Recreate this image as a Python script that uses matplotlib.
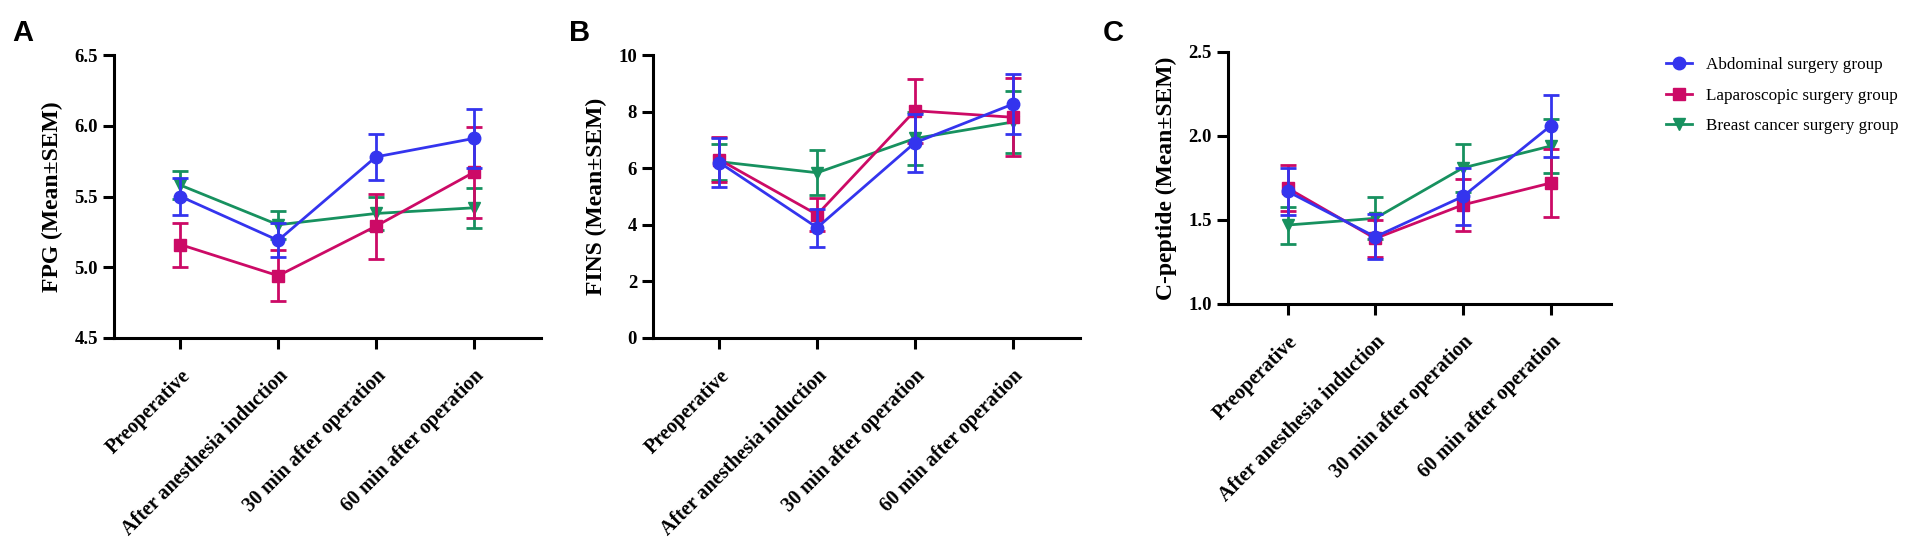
import numpy as np
import matplotlib
matplotlib.use("Agg")
import matplotlib.pyplot as plt
from matplotlib.lines import Line2D

plt.rcParams.update({"font.family": "serif", "font.serif": ["Liberation Serif", "DejaVu Serif"]})

timepoints = ["Preoperative", "After anesthesia induction",
              "30 min after operation", "60 min after operation"]
groups = ["Abdominal surgery group", "Laparoscopic surgery group", "Breast cancer surgery group"]

# FPG, mean and SEM per group
fpg_abd = [5.50, 5.19, 5.78, 5.91]
fpg_abd_sem = [0.13, 0.12, 0.16, 0.21]
fpg_lap = [5.16, 4.94, 5.29, 5.67]
fpg_lap_sem = [0.155, 0.18, 0.23, 0.32]
fpg_bre = [5.58, 5.30, 5.38, 5.42]
fpg_bre_sem = [0.10, 0.10, 0.12, 0.14]

# FINS
fins_abd = [6.20, 3.90, 6.90, 8.26]
fins_abd_sem = [0.85, 0.67, 1.02, 1.06]
fins_lap = [6.30, 4.36, 8.03, 7.80]
fins_lap_sem = [0.79, 0.57, 1.13, 1.38]
fins_bre = [6.23, 5.84, 7.05, 7.63]
fins_bre_sem = [0.63, 0.80, 0.92, 1.10]

# C-peptide
cp_abd = [1.67, 1.40, 1.64, 2.06]
cp_abd_sem = [0.14, 0.135, 0.17, 0.185]
cp_lap = [1.69, 1.39, 1.59, 1.72]
cp_lap_sem = [0.135, 0.11, 0.155, 0.20]
cp_bre = [1.47, 1.51, 1.81, 1.94]
cp_bre_sem = [0.11, 0.125, 0.145, 0.16]

colors = ["#3434EE", "#CC0A66", "#17915F"]
markers = ["o", "s", "v"]

W, H = 1910, 540
fig = plt.figure(figsize=(W / 100, H / 100), dpi=100)

def px_axes(x0, y_top, x1, y_bot):
    return fig.add_axes([x0 / W, 1 - y_bot / H, (x1 - x0) / W, (y_bot - y_top) / H])

axA = px_axes(114, 55, 541, 338)
axB = px_axes(653, 55, 1080, 338)
axC = px_axes(1228, 52, 1611, 304)

panels = [
    (axA, [fpg_abd, fpg_lap, fpg_bre], [fpg_abd_sem, fpg_lap_sem, fpg_bre_sem],
     "FPG (Mean±SEM)", (4.5, 6.5), np.arange(4.5, 6.51, 0.5), "{:.1f}"),
    (axB, [fins_abd, fins_lap, fins_bre], [fins_abd_sem, fins_lap_sem, fins_bre_sem],
     "FINS (Mean±SEM)", (0, 10), np.arange(0, 11, 2), "{:.0f}"),
    (axC, [cp_abd, cp_lap, cp_bre], [cp_abd_sem, cp_lap_sem, cp_bre_sem],
     "C-peptide (Mean±SEM)", (1.0, 2.5), np.arange(1.0, 2.51, 0.5), "{:.1f}"),
]

x = np.arange(len(timepoints))
for ax, means, sems, ylab, ylim, yticks, fmt in panels:
    # blue on top, like the original
    for i in [2, 1, 0]:
        ax.errorbar(x, means[i], yerr=sems[i], color=colors[i], marker=markers[i],
                    markersize=9, lw=2.0, elinewidth=2.0, capsize=6, capthick=2.0,
                    zorder=3 + (2 - i), clip_on=False)
    ax.set_xlim(-0.68, 3.69)
    ax.set_ylim(*ylim)
    ax.set_yticks(yticks)
    ax.set_yticklabels([fmt.format(t) for t in yticks])
    ax.set_xticks(x)
    ax.set_xticklabels(timepoints, rotation=45, ha="right", rotation_mode="anchor")
    for s in ["top", "right"]:
        ax.spines[s].set_visible(False)
    for s in ["left", "bottom"]:
        ax.spines[s].set_linewidth(2.2)
    ax.tick_params(axis="both", width=2.2, length=8)
    ax.tick_params(axis="x", pad=12, labelsize=14.5)
    ax.tick_params(axis="y", pad=3.5, labelsize=13.5)
    for lab in ax.get_xticklabels() + ax.get_yticklabels():
        lab.set_fontweight("bold")
    ax.set_ylabel(ylab, fontsize=17, fontweight="bold", labelpad=8)

for ax, letter, xp, yp in [(axA, "A", 12, 19), (axB, "B", 569, 19), (axC, "C", 1103, 19)]:
    fig.text(xp / W, 1 - yp / H, letter, fontsize=21, fontweight="bold",
             family="Liberation Sans", ha="left", va="top")

handles = [Line2D([], [], color=colors[i], marker=markers[i], lw=2.0, markersize=9)
           for i in range(3)]
fig.legend(handles, groups, loc="upper left", bbox_to_anchor=(1666 / W, 1 - 57 / H),
           frameon=False, fontsize=12.3, handlelength=1.5, handletextpad=0.85,
           labelspacing=0.85, borderpad=0, borderaxespad=0)

fig.savefig("out.png", dpi=100)
